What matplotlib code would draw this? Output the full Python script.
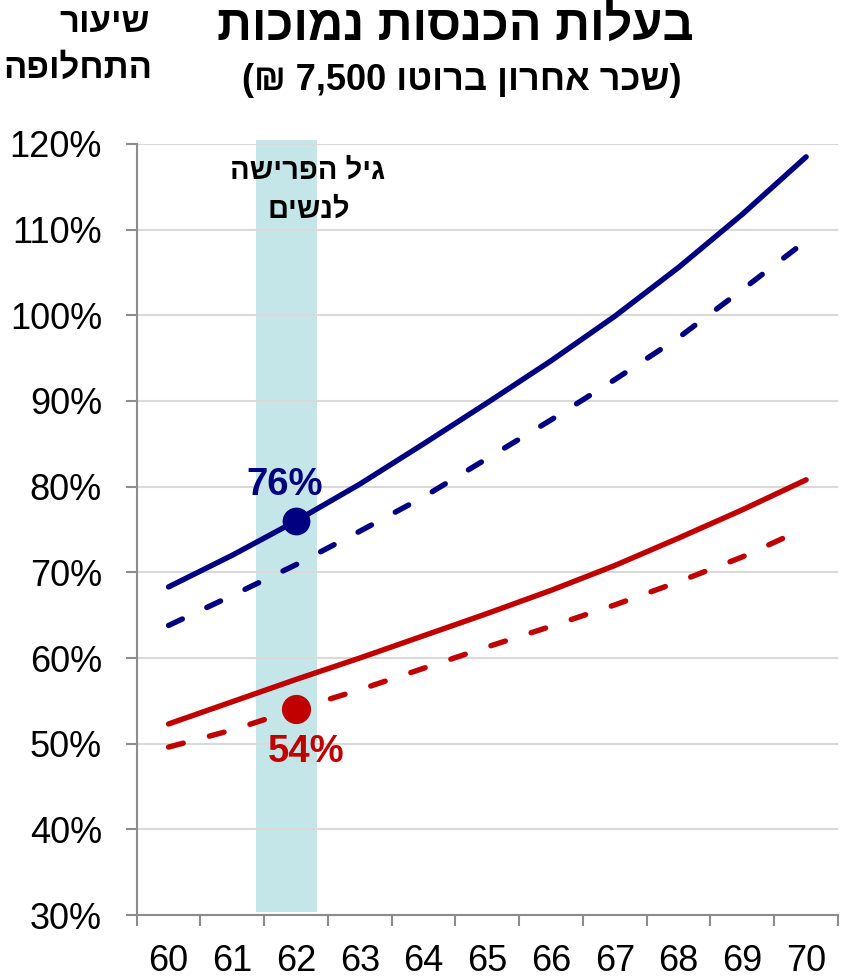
import matplotlib
matplotlib.use("Agg")
import matplotlib.pyplot as plt
import numpy as np

FONT = ['Liberation Sans', 'DejaVu Sans']
plt.rcParams['font.family'] = FONT

# ---- data ----
ages = [60, 61, 62, 63, 64, 65, 66, 67, 68, 69, 70]
navy_solid = [68.3, 72.0, 76.0, 80.3, 85.0, 89.8, 94.7, 99.9, 105.6, 111.8, 118.5]
navy_dashed = [63.8, 67.3, 70.9, 74.8, 78.8, 83.3, 87.8, 92.5, 97.4, 103.0, 108.7]
red_solid = [52.3, 54.9, 57.5, 60.0, 62.6, 65.2, 67.9, 70.8, 74.0, 77.3, 80.8]
red_dashed = [49.6, 51.6, 54.0, 56.3, 58.8, 61.3, 63.7, 66.2, 68.9, 71.8, 75.2]
yticks = [30, 40, 50, 60, 70, 80, 90, 100, 110, 120]
band = (61.37, 62.33)
highlight_age = 62
navy_label = "76%"
red_label = "54%"

title = "בעלות הכנסות נמוכות"
subtitle = "(שכר אחרון ברוטו 7,500 ₪)"
ylab1 = "שיעור"
ylab2 = "התחלופה"
band_l1 = "גיל הפרישה"
band_l2 = "לנשים"

NAVY = "#000080"
RED = "#C00000"
BAND = "#C5E6E8"


def rtl(s):
    """Simple visual reordering for RTL text (Hebrew with embedded numbers)."""
    r = s[::-1]
    out = []
    i = 0
    keep = set("0123456789,.%")
    while i < len(r):
        if r[i] in "0123456789":
            j = i
            while j < len(r) and r[j] in keep:
                j += 1
            out.append(r[i:j][::-1])
            i = j
        else:
            c = r[i]
            c = {"(": ")", ")": "("}.get(c, c)
            out.append(c)
            i += 1
    return "".join(out)


W, H = 846, 980
fig = plt.figure(figsize=(W / 100, H / 100), dpi=100)
L, R, T, B = 136.7, 838, 144, 915
ax = fig.add_axes([L / W, 1 - B / H, (R - L) / W, (B - T) / H])

ax.set_xlim(59.5, 70.5)
ax.set_ylim(30, 120)

# band
ax.axvspan(band[0], band[1], ymin=0.004, ymax=1.005, color=BAND, lw=0,
           zorder=0.3, clip_on=False)

# grid
ax.set_yticks(yticks)
ax.set_yticklabels([f"{v}%" for v in yticks])
ax.yaxis.grid(True, color="#D9D9D9", lw=1.5, zorder=0.5)
ax.set_axisbelow(True)

ax.set_xticks(np.arange(59.5, 70.6, 1.0))
ax.set_xticklabels([])
ax.set_xticks(ages, minor=True)
ax.set_xticklabels([str(a) for a in ages], minor=True)
ax.tick_params(axis='x', which='minor', length=0, labelsize=26, pad=21)
ax.tick_params(axis='x', which='major', length=8, width=1.5, color="#8C8C8C", direction='out')
ax.tick_params(axis='y', length=8, width=1.5, color="#8C8C8C", labelsize=26, pad=17)

for s in ['top', 'right']:
    ax.spines[s].set_visible(False)
for s in ['left', 'bottom']:
    ax.spines[s].set_color("#8C8C8C")
    ax.spines[s].set_linewidth(1.5)

lw = 3.9
ax.plot(ages, navy_solid, color=NAVY, lw=lw, solid_capstyle='round', zorder=3)
ax.plot(ages, navy_dashed, color=NAVY, lw=lw, dashes=(2.8, 5.0),
        dash_capstyle='round', zorder=3)
ax.plot(ages, red_solid, color=RED, lw=lw, solid_capstyle='round', zorder=3)
ax.plot(ages, red_dashed, color=RED, lw=lw, dashes=(2.8, 5.0),
        dash_capstyle='round', zorder=3)

i62 = ages.index(highlight_age)
ax.plot([highlight_age], [navy_solid[i62]], 'o', color=NAVY, ms=19, zorder=4)
ax.plot([highlight_age], [red_dashed[i62]], 'o', color=RED, ms=20, zorder=4)


def ftxt(x, y, s, **kw):
    fig.text(x / W, 1 - y / H, s, **kw)


ftxt(285, 485, navy_label, color=NAVY, fontsize=27.5, fontweight='bold',
     ha='center', va='center')
ftxt(306, 752, red_label, color=RED, fontsize=27.5, fontweight='bold',
     ha='center', va='center')

ftxt(308, 171, rtl(band_l1), fontsize=21, fontweight='bold', ha='center', va='center')
ftxt(309, 210, rtl(band_l2), fontsize=21, fontweight='bold', ha='center', va='center')

ftxt(455, 27, rtl(title), fontsize=35, fontweight='bold', ha='center', va='center')
ftxt(462, 80, rtl(subtitle), fontsize=26, fontweight='bold', ha='center', va='center')

ftxt(150, 22, rtl(ylab1), fontsize=25, fontweight='bold', ha='right', va='center')
ftxt(152, 68, rtl(ylab2), fontsize=25, fontweight='bold', ha='right', va='center')

fig.savefig("out.png", dpi=100)
